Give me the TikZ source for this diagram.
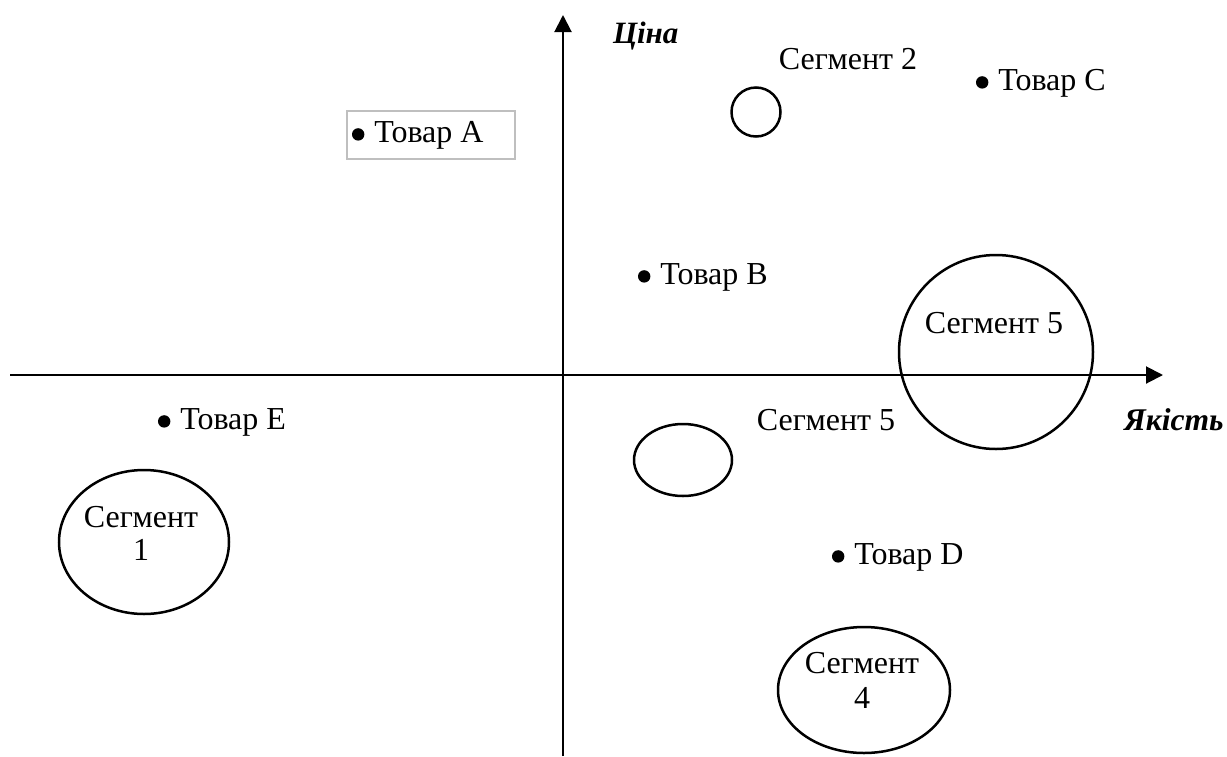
\documentclass[tikz,border=0pt]{standalone}
\usepackage{fontspec}
\setmainfont{Liberation Serif}
\usetikzlibrary{arrows.meta}
\newcommand\bul{\tikz[baseline=0pt]\fill (0,3.8pt) circle (3.1pt);\hspace{5pt}}
\begin{document}
\begin{tikzpicture}[x=0.5pt,y=-0.5pt,
  every node/.style={inner sep=0pt,outer sep=0pt,font=\fontsize{16}{19}\selectfont},
  lbl/.style={anchor=base west},
  clbl/.style={anchor=base},
  axis/.style={line width=1pt,-{Triangle[length=8.5pt,width=8.5pt]}},
  seg/.style={line width=1.25pt},
  boxed/.style={draw=black!25,line width=0.8pt}]
\useasboundingbox (0,0) rectangle (1227,756);
% axes
\coordinate (xs) at (10,375);
\coordinate (xe) at (1163,375);
\coordinate (ys) at (563,756);
\coordinate (ye) at (563,15);
\draw[axis] (xs) -- (xe);
\draw[axis] (ys) -- (ye);
\node[lbl,font=\fontsize{15.5}{18}\selectfont\bfseries\itshape] (cina) at (613,43) {Ціна};
\node[lbl,font=\fontsize{15.8}{18}\selectfont\bfseries\itshape] (yakist) at (1124,430) {Якість};
% goods
\draw[boxed] (347,111) rectangle (515,159);
\node[lbl] (ta) at (352,142) {\bul Товар A};
\node[lbl] (tb) at (638,284) {\bul Товар B};
\node[lbl] (tc) at (976,90) {\bul Товар C};
\node[lbl] (td) at (832,564) {\bul Товар D};
\node[lbl] (te) at (158,429) {\bul Товар E};
% segments
\draw[seg] (756,112) circle [radius=24.5];
\node[clbl] (s2) at (848,69) {Сегмент 2};
\draw[seg] (996,352) circle [radius=97];
\node[clbl] (s5a) at (994,333) {Сегмент 5};
\draw[seg] (683,460) ellipse [x radius=49, y radius=36];
\node[clbl] (s5b) at (826,430) {Сегмент 5};
\draw[seg] (144,542) ellipse [x radius=85, y radius=72];
\node[clbl] (s1a) at (141,527) {Сегмент};
\node[clbl] (s1b) at (141,560) {1};
\draw[seg] (864,690) ellipse [x radius=86, y radius=63];
\node[clbl] (s4a) at (862,673) {Сегмент};
\node[clbl] (s4b) at (862,708) {4};
\end{tikzpicture}
\end{document}
